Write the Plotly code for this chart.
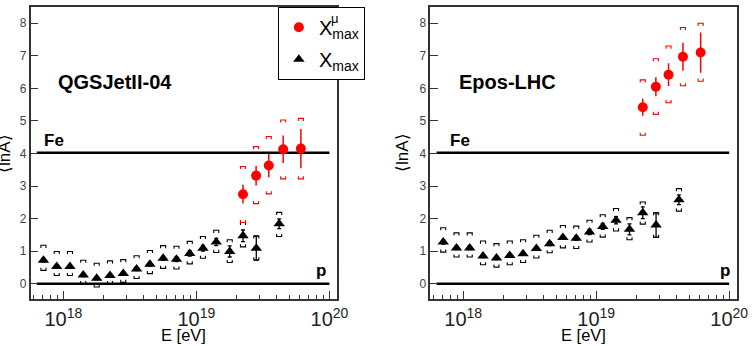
import plotly.graph_objects as go

# ---------------- data ----------------
# energies [eV]
E_xmax = [7.08e17, 8.91e17, 1.12e18, 1.41e18, 1.78e18, 2.24e18, 2.82e18, 3.55e18, 4.47e18,
          5.62e18, 7.08e18, 8.91e18, 1.12e19, 1.41e19, 1.78e19, 2.24e19, 2.82e19, 4.19e19]
E_mu = [2.24e19, 2.81e19, 3.50e19, 4.49e19, 6.10e19]

# QGSJetII-04 : <lnA> from Xmax
qgs_xmax = [0.72, 0.53, 0.53, 0.27, 0.17, 0.25, 0.31, 0.45, 0.60, 0.78, 0.75, 0.93,
            1.09, 1.28, 0.99, 1.47, 1.09, 1.84]
qgs_xmax_sys_up = [1.18, 0.99, 0.99, 0.72, 0.63, 0.70, 0.74, 0.86, 1.02, 1.17, 1.15, 1.30,
                   1.45, 1.64, 1.35, 1.88, 1.47, 2.19]
qgs_xmax_sys_lo = [0.41, 0.25, 0.25, 0.00, -0.10, 0.00, 0.04, 0.16, 0.31, 0.47, 0.45, 0.61,
                   0.78, 0.96, 0.65, 1.13, 0.73, 1.45]
# QGSJetII-04 : <lnA> from Xmax^mu
qgs_mu = [2.75, 3.32, 3.63, 4.13, 4.15]
qgs_mu_stat = [0.29, 0.30, 0.36, 0.42, 0.60]
qgs_mu_sys_up = [3.60, 4.21, 4.52, 5.03, 5.08]
qgs_mu_sys_lo = [1.88, 2.46, 2.76, 3.22, 3.22]

# Epos-LHC : <lnA> from Xmax
epos_xmax = [1.28, 1.10, 1.10, 0.85, 0.79, 0.87, 0.92, 1.08, 1.23, 1.42, 1.40, 1.59,
             1.76, 1.95, 1.67, 2.18, 1.80, 2.58]
epos_xmax_sys_up = [1.72, 1.56, 1.56, 1.31, 1.23, 1.31, 1.35, 1.49, 1.64, 1.79, 1.77, 1.95,
                    2.12, 2.31, 2.03, 2.51, 2.18, 2.92]
epos_xmax_sys_lo = [0.97, 0.82, 0.82, 0.58, 0.51, 0.58, 0.65, 0.79, 0.95, 1.10, 1.08, 1.28,
                    1.43, 1.62, 1.35, 1.83, 1.42, 2.23]
# Epos-LHC : <lnA> from Xmax^mu
epos_mu = [5.42, 6.05, 6.42, 6.97, 7.10]
epos_mu_stat = [0.26, 0.29, 0.35, 0.43, 0.62]
epos_mu_sys_up = [6.26, 6.91, 7.30, 7.87, 8.00]
epos_mu_sys_lo = [4.56, 5.20, 5.56, 6.08, 6.22]

# statistical errors of Xmax points (same for both models)
xmax_stat = [0.06, 0.05, 0.05, 0.05, 0.05, 0.05, 0.05, 0.05, 0.06, 0.06, 0.07, 0.08,
             0.09, 0.11, 0.17, 0.18, 0.37, 0.15]

# reference lines
lnA_p = 0.0
lnA_Fe = 4.02
E_line = [6.31e17, 1e20]

# ---------------- styles ----------------
FONT = "Liberation Sans, Arial, sans-serif"
RED = "#ff0000"
BR_W = 10 ** 0.019   # bracket half width (log factor)
BR_LEG = 0.08        # bracket leg length (lnA units)
XRANGE = [17.753, 20.057]
YRANGE = [-0.47, 8.5]

fig = go.Figure()


def brackets(E, tops, bots):
    xs, ys = [], []
    for e, t, b in zip(E, tops, bots):
        l, r = e / BR_W, e * BR_W
        xs += [l, l, r, r, None, l, l, r, r, None]
        ys += [t - BR_LEG, t, t, t - BR_LEG, None, b + BR_LEG, b, b, b + BR_LEG, None]
    return xs, ys


def panel(xa, ya, xmax, xsu, xsl, mu, mstat, msu, msl, legend):
    for lev in (lnA_Fe, lnA_p):
        fig.add_trace(go.Scatter(x=E_line, y=[lev, lev], mode="lines",
                                 line=dict(color="black", width=2.5),
                                 xaxis=xa, yaxis=ya, showlegend=False, hoverinfo="skip"))
    bx, by = brackets(E_xmax, xsu, xsl)
    fig.add_trace(go.Scatter(x=bx, y=by, mode="lines", line=dict(color="black", width=1.1),
                             xaxis=xa, yaxis=ya, showlegend=False, hoverinfo="skip"))
    rx, ry = brackets(E_mu, msu, msl)
    fig.add_trace(go.Scatter(x=rx, y=ry, mode="lines", line=dict(color=RED, width=1.1),
                             xaxis=xa, yaxis=ya, showlegend=False, hoverinfo="skip"))
    fig.add_trace(go.Scatter(x=E_mu, y=mu, mode="markers", name="X<sub>max</sub>",
                             marker=dict(symbol="circle", size=10, color=RED),
                             error_y=dict(type="data", array=mstat, color=RED, thickness=1.5, width=0),
                             xaxis=xa, yaxis=ya, showlegend=legend, legendgroup="mu"))
    fig.add_trace(go.Scatter(x=E_xmax, y=xmax, mode="markers", name="X<sub>max</sub>",
                             marker=dict(symbol="triangle-up", size=10, color="black"),
                             error_y=dict(type="data", array=xmax_stat, color="black", thickness=1.3, width=2),
                             xaxis=xa, yaxis=ya, showlegend=legend, legendgroup="xmax"))


panel("x", "y", qgs_xmax, qgs_xmax_sys_up, qgs_xmax_sys_lo, qgs_mu, qgs_mu_stat,
      qgs_mu_sys_up, qgs_mu_sys_lo, True)
panel("x2", "y2", epos_xmax, epos_xmax_sys_up, epos_xmax_sys_lo, epos_mu, epos_mu_stat,
      epos_mu_sys_up, epos_mu_sys_lo, False)

xax = dict(type="log", range=XRANGE, dtick=1, exponentformat="power", showexponent="all",
           ticks="inside", ticklen=8, tickwidth=1.3, tickcolor="#333", ticklabelstandoff=2,
           showline=True, linecolor="#333", linewidth=1.5, mirror=True,
           showgrid=False, zeroline=False, tickfont=dict(size=16, color="#222", family=FONT),
           minor=dict(ticks="inside", ticklen=4, tickwidth=1, tickcolor="#333", dtick="D1", showgrid=False))
yax = dict(range=YRANGE, dtick=1, ticks="inside", ticklen=8, tickwidth=1.3, tickcolor="#333",
           showline=True, linecolor="#333", linewidth=1.5, mirror=True,
           showgrid=False, zeroline=False, tickfont=dict(size=12, color="#444", family=FONT))

ydom = [47 / 346, 339 / 346]
fig.update_layout(
    width=753, height=346, margin=dict(l=0, r=0, t=0, b=0),
    paper_bgcolor="white", plot_bgcolor="white",
    font=dict(family=FONT, color="black"),
    xaxis=dict(xax, domain=[31 / 753, 342 / 753], anchor="y"),
    yaxis=dict(yax, domain=ydom, anchor="x"),
    xaxis2=dict(xax, domain=[436.7 / 753, 747.7 / 753], anchor="y2"),
    yaxis2=dict(yax, domain=ydom, anchor="x2"),
    legend=dict(x=282 / 753, y=1 - 6.7 / 346, xanchor="left", yanchor="top",
                bordercolor="black", borderwidth=1, bgcolor="white",
                font=dict(size=20, family=FONT, color="black"), tracegroupgap=3),
    showlegend=True,
)

ann = []
for xr, yr, name, xn, xfe, xp in (("x", "y", "QGSJetII-04", 18.39, 17.93, 19.933),
                                   ("x2", "y2", "Epos-LHC", 18.331, 17.978, 19.97)):
    ann.append(dict(text=f"<b>{name}</b>", x=xn, y=6.2, xref=xr, yref=yr, showarrow=False,
                    xanchor="center", yanchor="middle", font=dict(size=20, family=FONT)))
    ann.append(dict(text="<b>Fe</b>", x=xfe, y=4.4, xref=xr, yref=yr, showarrow=False,
                    xanchor="center", yanchor="middle", font=dict(size=17, family=FONT)))
    ann.append(dict(text="<b>p</b>", x=xp, y=0.41, xref=xr, yref=yr, showarrow=False,
                    xanchor="center", yanchor="middle", font=dict(size=17, family=FONT)))
for xc in (5 / 753, 409 / 753):
    ann.append(dict(text="⟨lnA⟩", x=xc, y=1 - 153 / 346, xref="paper", yref="paper",
                    xanchor="center", yanchor="middle",
                    textangle=-90, showarrow=False, font=dict(size=17, family=FONT)))
for xc in (186.5 / 753, 592 / 753):
    ann.append(dict(text="E [eV]", x=xc, y=1 - 334.5 / 346, xref="paper", yref="paper",
                    xanchor="center", yanchor="middle",
                    showarrow=False, font=dict(size=16.5, family=FONT)))
# superscript mu of the first legend entry (X^mu_max)
ann.append(dict(text="μ", x=334 / 753, y=1 - 19 / 346, xref="paper", yref="paper",
                xanchor="left", yanchor="middle", showarrow=False,
                font=dict(size=13, family=FONT)))
fig.update_layout(annotations=ann)

fig.write_html("out.html")
